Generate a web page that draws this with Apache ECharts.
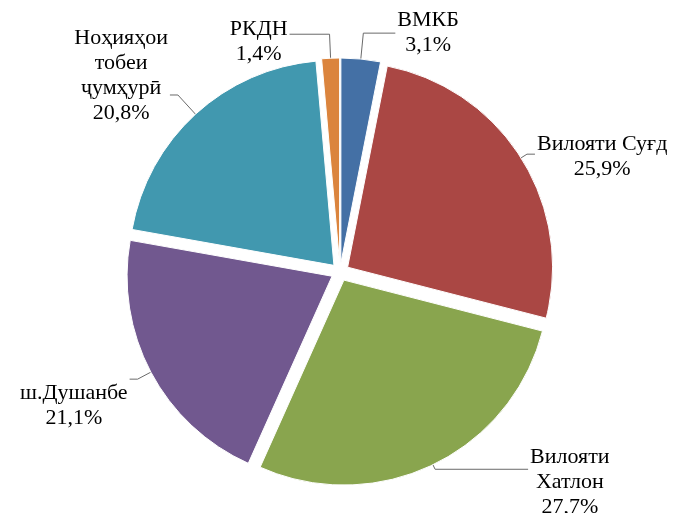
<!DOCTYPE html>
<html>
<head>
<meta charset="utf-8">
<script src="https://cdn.jsdelivr.net/npm/echarts@6/dist/echarts.min.js"></script>
<style>
  html, body { margin: 0; padding: 0; background: #fff; }
  #chart { width: 676px; height: 513px; }
</style>
</head>
<body>
<div id="chart"></div>
<script>
// regions and their shares, %
var names = ['ВМКБ', 'Вилояти Суғд', 'Вилояти\nХатлон', 'ш.Душанбе', 'Ноҳияҳои\nтобеи\nҷумҳурӣ', 'РКДН']
var values = [3.1, 25.9, 27.7, 21.1, 20.8, 1.4]
var colors = ['#4470A5', '#AA4744', '#89A54E', '#71588F', '#4198AF', '#DB843D']
// leader line pieces and label padding per slice
var lineLen = [26, 7, 5, 15, 26, 24]
var lineLen2 = [32, 8, 93, 8, 8, 40]
var labelPad = [[0, 0, 0, 0], [6, 0, 0, 0], [26, 0, 0, 0], [54, 0, 0, 0], [0, 0, 38, 0], [14, 0, 0, 0]]

var data = []
for (var i = 0; i < values.length; i++) {
  data.push({
    name: names[i],
    value: values[i],
    selected: true,
    itemStyle: { color: colors[i] },
    label: { padding: labelPad[i] },
    labelLine: { length: lineLen[i], length2: lineLen2[i] }
  })
}

var chart = echarts.init(document.getElementById('chart'))
chart.setOption({
  backgroundColor: '#fff',
  animation: false,
  series: [{
    type: 'pie',
    center: [340, 272],
    radius: 205,
    startAngle: 90,
    clockwise: true,
    selectedMode: 'multiple',
    selectedOffset: 9,
    avoidLabelOverlap: false,
    data: data,
    itemStyle: { borderColor: '#fff', borderWidth: 1 },
    label: {
      show: true,
      position: 'outside',
      distanceToLabelLine: 2,
      formatter: function (p) {
        var rows = p.name.split('\n')
        rows.push(p.value.toFixed(1).replace('.', ',') + '%')
        return rows.map(function (r) { return '{c|' + r + '}' }).join('\n')
      },
      rich: {
        c: {
          align: 'center',
          color: '#000',
          fontFamily: 'Liberation Serif',
          fontSize: 22,
          lineHeight: 25
        }
      }
    },
    labelLine: {
      show: true,
      lineStyle: { color: '#6a6a6a', width: 1 }
    },
    emphasis: { disabled: true }
  }]
})
</script>
</body>
</html>
